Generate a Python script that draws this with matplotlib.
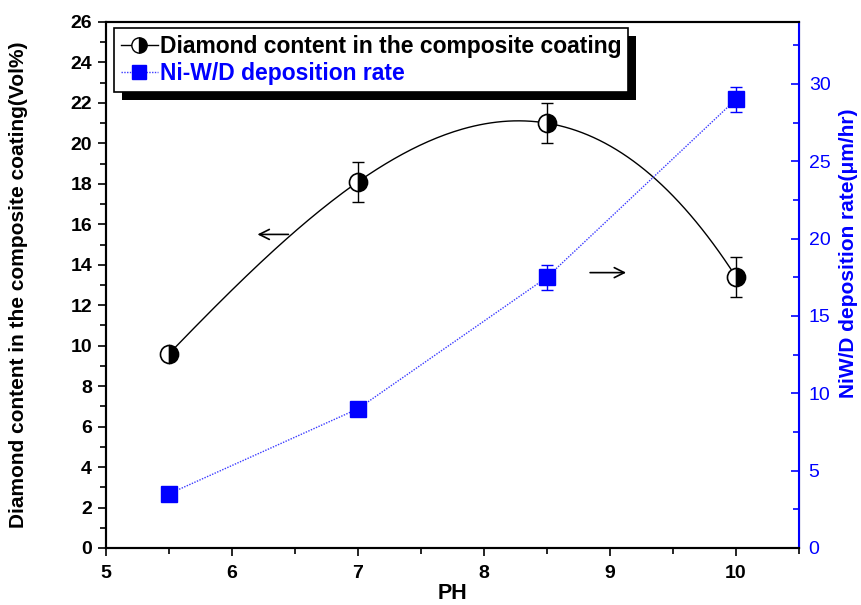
import numpy as np
import matplotlib
matplotlib.use("Agg")
import matplotlib.pyplot as plt
from matplotlib.patches import Rectangle
from matplotlib.ticker import MultipleLocator
from matplotlib.transforms import IdentityTransform

plt.rcParams['font.family'] = ['Liberation Sans', 'DejaVu Sans']

ph = [5.5, 7.0, 8.5, 10.0]
diamond = [9.6, 18.1, 21.0, 13.4]
diamond_err = [0.0, 1.0, 1.0, 1.0]
rate = [3.5, 9.0, 17.5, 29.0]
rate_err = [0.0, 0.0, 0.8, 0.8]

fig = plt.figure(figsize=(8.61, 6.05), dpi=100)
ax = fig.add_axes([106/861, 1-548/605, (799-106)/861, (548-22)/605])
ax2 = ax.twinx()

# smooth connecting curve (cubic through the 4 points, as Origin spline)
coef = np.polyfit(ph, diamond, 3)
xs = np.linspace(ph[0], ph[-1], 200)
ax.plot(xs, np.polyval(coef, xs), color='black', lw=1.0, zorder=2)
ax.errorbar(ph, diamond, yerr=diamond_err, fmt='none', ecolor='black',
            elinewidth=1.0, capsize=4, capthick=1.0, zorder=3)
ax.plot(ph, diamond, linestyle='none', marker='o', markersize=13,
        fillstyle='right', markerfacecolor='black', markerfacecoloralt='white',
        markeredgecolor='black', markeredgewidth=1.2, zorder=4)

ax2.plot(ph, rate, color='#3a3aff', lw=1.0, linestyle=(0, (1, 1)), zorder=2)
ax2.errorbar(ph, rate, yerr=rate_err, fmt='none', ecolor='blue',
             elinewidth=1.0, capsize=4, capthick=1.0, zorder=3)
ax2.plot(ph, rate, linestyle='none', marker='s', markersize=12,
         color='blue', markeredgecolor='blue', zorder=4)

ax.set_xlim(5, 10.5)
ax.set_ylim(0, 26)
ax2.set_ylim(0, 34)

ax.xaxis.set_major_locator(MultipleLocator(1))
ax.xaxis.set_minor_locator(MultipleLocator(0.5))
ax.yaxis.set_major_locator(MultipleLocator(2))
ax.yaxis.set_minor_locator(MultipleLocator(1))
ax2.yaxis.set_major_locator(MultipleLocator(5))
ax2.yaxis.set_minor_locator(MultipleLocator(2.5))

ax.tick_params(axis='both', which='major', direction='out', length=6, width=1.2,
               labelsize=14)
ax.tick_params(axis='both', which='minor', direction='out', length=4, width=1.2)
ax.tick_params(axis='y', right=False, pad=4)
ax.tick_params(axis='x', top=False, pad=6)
for lab in ax.get_xticklabels() + ax.get_yticklabels():
    lab.set_fontweight('bold')

ax2.tick_params(axis='y', which='major', direction='in', length=6, width=1.2,
                colors='blue', labelsize=14, pad=7)
ax2.tick_params(axis='y', which='minor', direction='in', length=4, width=1.2,
                colors='blue')

for s in ['left', 'bottom', 'top']:
    ax.spines[s].set_linewidth(1.5)
    ax2.spines[s].set_linewidth(1.5)
ax2.spines['right'].set_color('blue')
ax2.spines['right'].set_linewidth(1.5)

ax.set_xlabel('PH', fontsize=15.5, fontweight='bold', labelpad=1)
ax.set_ylabel('Diamond content in the composite coating(Vol%)', fontsize=15,
              fontweight='bold')
ax.yaxis.set_label_coords(-0.1126, 0.5)
ax2.set_ylabel('NiW/D deposition rate(\u03bcm/hr)', fontsize=15,
               fontweight='bold', color='blue')
ax2.yaxis.set_label_coords(1.057, 0.56)

# arrows
ax.annotate('', xy=(6.18, 15.5), xytext=(6.47, 15.5),
            arrowprops=dict(arrowstyle='->', color='black', lw=1.2,
                            mutation_scale=18))
ax2.annotate('', xy=(9.15, 17.8), xytext=(8.82, 17.8),
             arrowprops=dict(arrowstyle='->', color='black', lw=1.2,
                             mutation_scale=18))

# legend
h1 = ax.plot([], [], color='black', lw=1.0, marker='o', markersize=11,
             fillstyle='right', markerfacecolor='black',
             markerfacecoloralt='white', markeredgecolor='black')[0]
h2 = ax2.plot([], [], color='#3a3aff', lw=1.0, linestyle=(0, (1, 1)),
              marker='s', markersize=10, markerfacecolor='blue',
              markeredgecolor='blue')[0]
leg = ax2.legend([h1, h2], ['Diamond content in the composite coating',
                            'Ni-W/D deposition rate'],
                 loc='upper left', bbox_to_anchor=(114/861, 1-28/605),
                 bbox_transform=fig.transFigure, frameon=True, fancybox=False,
                 framealpha=1, edgecolor='black', handlelength=1.6,
                 handletextpad=0.1, borderpad=0.3, labelspacing=0.2,
                 borderaxespad=0, prop={'size': 16.5, 'weight': 'bold'})
leg.get_frame().set_linewidth(1.2)
leg.get_texts()[1].set_color('blue')
leg.set_zorder(10)

fig.canvas.draw()
bb = leg.get_window_extent()
shadow = Rectangle((bb.x0 + 8, bb.y0 - 8), bb.width, bb.height,
                   transform=IdentityTransform(), facecolor='black',
                   edgecolor='none', zorder=9, clip_on=False)
ax2.add_artist(shadow)

fig.savefig('out.png', dpi=100)
